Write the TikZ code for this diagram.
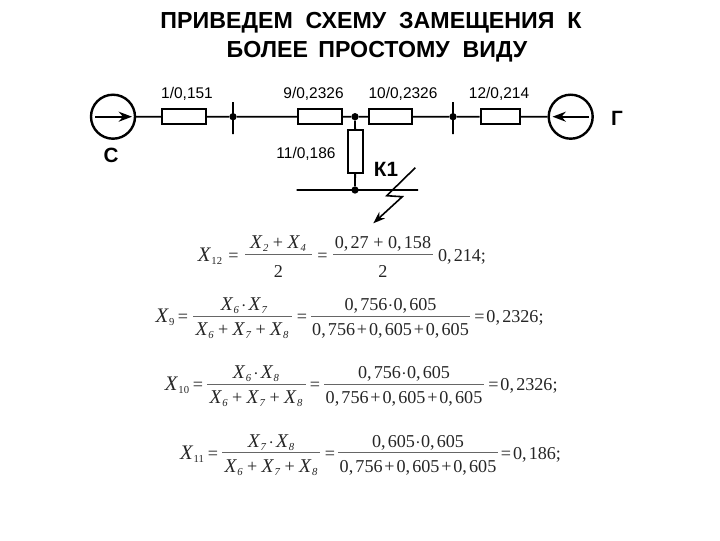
\documentclass[tikz,border=0pt]{standalone}
\usepackage{fontspec}
\setmainfont{Liberation Serif}
\newfontfamily\arialf{Liberation Sans}
\usetikzlibrary{arrows.meta}
\newcommand{\fX}[1]{{\fontsize{14.6pt}{15pt}\selectfont\textit{X}}\kern.02em\raisebox{-.4ex}{\fontsize{8pt}{8pt}\selectfont\textit{#1}}}
\newcommand{\fXn}[1]{{\fontsize{15.5pt}{15pt}\selectfont\textit{X}}\kern.02em\raisebox{-.4ex}{\fontsize{8pt}{8pt}\selectfont #1}}
\newcommand{\cm}{,\kern.12em}
\newcommand{\pp}{\kern.1em+\kern.1em}
\newcommand{\ppx}{\kern.24em+\kern.24em}
\newcommand{\pd}{\kern.02em$\cdot$\kern.02em}
\newcommand{\pdx}{\kern.12em$\cdot$\kern.12em}
\tikzset{
  x=.75pt,y=-.75pt,
  wire/.style={line width=1.35pt,black},
  resh/.style={draw=black,line width=1.5pt,fill=white,minimum width=32.5pt,minimum height=11.5pt,inner sep=0pt},
  resv/.style={draw=black,line width=1.5pt,fill=white,minimum width=11.5pt,minimum height=32pt,inner sep=0pt},
  gen/.style={circle,draw=black,line width=1.8pt,minimum size=33pt,inner sep=0pt},
  dotj/.style={circle,fill=black,minimum size=5.5pt,inner sep=0pt},
  title/.style={font=\arialf\bfseries\fontsize{17.4pt}{18pt}\selectfont,anchor=base,inner sep=0pt},
  lab/.style={font=\arialf\fontsize{11.6pt}{13pt}\selectfont,anchor=base,inner sep=0pt},
  blab/.style={font=\arialf\bfseries\fontsize{15.5pt}{16pt}\selectfont,anchor=base,inner sep=0pt},
  fm/.style={font=\fontsize{13.6pt}{15pt}\selectfont,anchor=base,inner sep=0pt,text=black!85},
  fbar/.style={line width=.8pt,black!60},
  genarrow/.style={line width=1.5pt,-{Stealth[length=10pt,width=7.5pt]}},
  bolt/.style={line width=1.2pt,-{Stealth[length=9pt,width=6.5pt]}}
}
\begin{document}
\begin{tikzpicture}
\useasboundingbox (0,0) rectangle (720,540);
\fill[white] (0,0) rectangle (720,540);
% title
\node[title] (t1) at (371,28) {ПРИВЕДЕМ\ \ СХЕМУ\ \ ЗАМЕЩЕНИЯ\ \ К};
\node[title] (t2) at (377,57) {БОЛЕЕ\ \,ПРОСТОМУ\ \ ВИДУ};
% elements
\node[gen] (C) at (113,116.7) {};
\node[gen] (G) at (570.7,116.7) {};
\node[resh] (r1) at (184,116.7) {};
\node[dotj] (j1) at (233,116.7) {};
\node[resh] (r9) at (320,116.7) {};
\node[dotj] (j2) at (355,116.7) {};
\node[resh] (r10) at (390.5,116.7) {};
\node[dotj] (j3) at (453,116.7) {};
\node[resh,minimum width=29.5pt] (r12) at (500.3,116.7) {};
\node[resv] (r11) at (355.3,151.3) {};
\node[dotj] (j4) at (355,190) {};
\coordinate (b1) at (296.7,190);
\coordinate (b2) at (418,190);
\coordinate (t1a) at (233,102);
\coordinate (t1b) at (233,134);
\coordinate (t3a) at (453,102);
\coordinate (t3b) at (453,134);
\coordinate (Ca) at (95,116.7);
\coordinate (Cb) at (132,116.7);
\coordinate (Ga) at (589,116.7);
\coordinate (Gb) at (552.5,116.7);
\coordinate (l1) at (415.3,167.7);
\coordinate (l2) at (386.7,195.7);
\coordinate (l3) at (402.3,196.7);
\coordinate (l4) at (373.3,223.3);
\draw[wire] (C) -- (r1) (r1) -- (j1) (j1) -- (r9) (r9) -- (j2) (j2) -- (r10)
  (r10) -- (j3) (j3) -- (r12) (r12) -- (G) (j2) -- (r11) (r11) -- (j4)
  (b1) -- (b2) (t1a) -- (t1b) (t3a) -- (t3b);
\draw[genarrow] (Ca) -- (Cb);
\draw[genarrow] (Ga) -- (Gb);
\draw[bolt] (l1) -- (l2) -- (l3) -- (l4);
% labels
\node[lab] (L1) at (187,98.5) {1/0,151};
\node[lab] (L9) at (313.5,98.5) {9/0,2326};
\node[lab] (L10) at (403,98.5) {10/0,2326};
\node[lab] (L12) at (499,98.5) {12/0,214};
\node[lab] (L11) at (306,158) {11/0,186};
\node[blab] (LC) at (111,162) {С};
\node[blab] (LG) at (617,125.5) {Г};
\node[blab] (LK) at (386,176) {К1};
% formula 1
\coordinate (b1a) at (245,254.5); \coordinate (b1b) at (312,254.5);
\coordinate (b2a) at (333,254.5); \coordinate (b2b) at (433,254.5);
\draw[fbar] (b1a) -- (b1b); \draw[fbar] (b2a) -- (b2b);
\node[fm] (f1x) at (210,261) {\fXn{12}};
\node[fm] (f1e) at (233.5,261) {=};
\node[fm] (f1n) at (278,248.5) {\fX{2} + \fX{4}};
\node[fm] (f1d) at (278.5,277) {2};
\node[fm] (f1f) at (322.5,261) {=};
\node[fm] (f1m) at (383,248.5) {0\cm27 + 0\cm158};
\node[fm] (f1k) at (383,277) {2};
\node[fm] (f1r) at (462,261) {0\cm214;};
% formula 2
\coordinate (b3a) at (193,316.5); \coordinate (b3b) at (292,316.5);
\coordinate (b4a) at (311,316.5); \coordinate (b4b) at (470,316.5);
\draw[fbar] (b3a) -- (b3b); \draw[fbar] (b4a) -- (b4b);
\node[fm] (f2x) at (165,322) {\fXn{9}};
\node[fm] (f2e) at (183,322) {=};
\node[fm] (f2n) at (244,310) {\fX{6}\pdx\fX{7}};
\node[fm] (f2d) at (242,335.5) {\fX{6}\ppx\fX{7}\ppx\fX{8}};
\node[fm] (f2f) at (302,322) {=};
\node[fm] (f2m) at (390.5,310) {0\cm756\pd0\cm605};
\node[fm] (f2k) at (390.5,335.5) {0\cm756\pp0\cm605\pp0\cm605};
\node[fm] (f2r) at (509,322) {=\kern.1em 0\cm2326;};
% formula 3
\coordinate (b5a) at (207,384.5); \coordinate (b5b) at (306,384.5);
\coordinate (b6a) at (324,384.5); \coordinate (b6b) at (484,384.5);
\draw[fbar] (b5a) -- (b5b); \draw[fbar] (b6a) -- (b6b);
\node[fm] (f3x) at (177,390) {\fXn{10}};
\node[fm] (f3e) at (198,390) {=};
\node[fm] (f3n) at (256,378) {\fX{6}\pdx\fX{8}};
\node[fm] (f3d) at (256,403.5) {\fX{6}\ppx\fX{7}\ppx\fX{8}};
\node[fm] (f3f) at (315,390) {=};
\node[fm] (f3m) at (404,378) {0\cm756\pd0\cm605};
\node[fm] (f3k) at (404,403.5) {0\cm756\pp0\cm605\pp0\cm605};
\node[fm] (f3r) at (523,390) {=\kern.1em 0\cm2326;};
% formula 4
\coordinate (b7a) at (222,452.5); \coordinate (b7b) at (320,452.5);
\coordinate (b8a) at (338,452.5); \coordinate (b8b) at (498,452.5);
\draw[fbar] (b7a) -- (b7b); \draw[fbar] (b8a) -- (b8b);
\node[fm] (f4x) at (192,459) {\fXn{11}};
\node[fm] (f4e) at (213,459) {=};
\node[fm] (f4n) at (271,447) {\fX{7}\pdx\fX{8}};
\node[fm] (f4d) at (271,472.5) {\fX{6}\ppx\fX{7}\ppx\fX{8}};
\node[fm] (f4f) at (330,459) {=};
\node[fm] (f4m) at (418,447) {0\cm605\pd0\cm605};
\node[fm] (f4k) at (418,472.5) {0\cm756\pp0\cm605\pp0\cm605};
\node[fm] (f4r) at (531,459) {=\kern.1em 0\cm186;};
\end{tikzpicture}
\end{document}
